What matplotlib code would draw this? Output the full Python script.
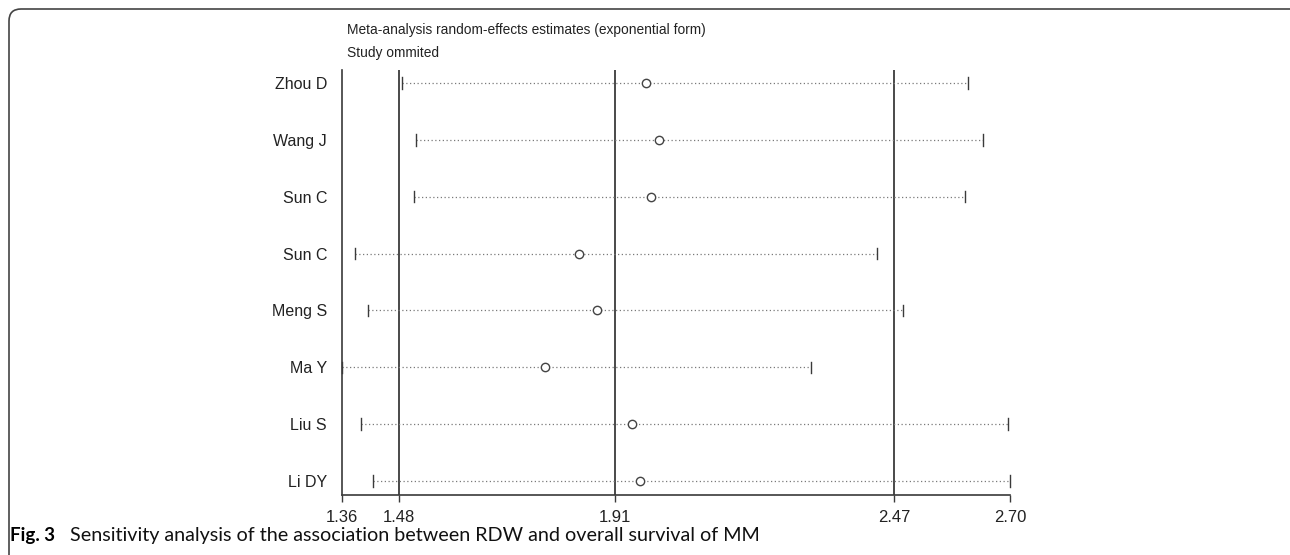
import matplotlib
matplotlib.use("Agg")
import matplotlib.pyplot as plt
from matplotlib.patches import FancyBboxPatch

# ---- data ----
studies = ["Zhou D", "Wang J", "Sun C", "Sun C", "Meng S", "Ma Y", "Liu S", "Li DY"]
estimate = [1.970, 1.995, 1.979, 1.836, 1.871, 1.767, 1.941, 1.957]
lower = [1.480, 1.507, 1.503, 1.386, 1.412, 1.360, 1.398, 1.422]
upper = [2.616, 2.646, 2.610, 2.433, 2.485, 2.301, 2.696, 2.700]
ref_lines = [1.474, 1.907, 2.468]          # overall lower CI, estimate, upper CI
tick_values = [1.360, 1.474, 1.907, 2.468, 2.700]
tick_labels = ["1.36", "1.48", "1.91", "2.47", "2.70"]
title_lines = ["Meta-analysis random-effects estimates (exponential form)", "Study ommited"]
caption_bold = "Fig. 3"
caption_text = "Sensitivity analysis of the association between RDW and overall survival of MM"

W, H = 1290, 555
fig = plt.figure(figsize=(W / 100, H / 100), dpi=100)
fig.patch.set_facecolor("white")

fam = ["Liberation Sans", "DejaVu Sans"]
cap_fam = ["Lato", "DejaVu Sans"]

left, right, top, bottom = 342.3, 1010, 70, 495
ax = fig.add_axes([left / W, 1 - bottom / H, (right - left) / W, (bottom - top) / H])

n = len(studies)
ys = list(range(n, 0, -1))
line_col = "#3a3a3a"

for v in ref_lines:
    ax.axvline(v, color=line_col, lw=1.3, zorder=1)

for y, lo, hi, est in zip(ys, lower, upper, estimate):
    ax.plot([lo, hi], [y, y], color="#7a7a7a", lw=0.9, ls=(0, (1, 2)), zorder=2)
    ax.plot([lo, lo], [y - 0.1, y + 0.1], color=line_col, lw=1.0, zorder=3, clip_on=False)
    ax.plot([hi, hi], [y - 0.1, y + 0.1], color=line_col, lw=1.0, zorder=3, clip_on=False)
    ax.plot([est], [y], marker="o", ms=6, mfc="white", mec="#444444", mew=1.0, zorder=4)

ax.set_xlim(1.36, 2.70)
ax.set_ylim(0.754, 8.229)
ax.set_yticks(ys)
ax.set_yticklabels(studies, family=fam, fontsize=11.5, color="#222222")
ax.tick_params(axis="y", length=0, pad=11)
ax.set_xticks(tick_values)
ax.set_xticklabels(tick_labels, family=fam, fontsize=12, color="#222222")
ax.tick_params(axis="x", length=5, width=1.0, color=line_col, pad=6)
for s in ["top", "right"]:
    ax.spines[s].set_visible(False)
for s in ["left", "bottom"]:
    ax.spines[s].set_color(line_col)
    ax.spines[s].set_linewidth(1.2)

fig.text(347 / W, 1 - 30 / H, title_lines[0], family=fam, fontsize=9.9,
         color="#222222", va="center", ha="left")
fig.text(347 / W, 1 - 53 / H, title_lines[1], family=fam, fontsize=9.9,
         color="#222222", va="center", ha="left")

fig.text(10 / W, 1 - 535 / H, caption_bold, family=cap_fam, fontsize=13.5,
         fontweight="bold", color="black", va="center", ha="left")
fig.text(70 / W, 1 - 535 / H, caption_text, family=cap_fam, fontsize=14.2,
         color="#111111", va="center", ha="left")

box = FancyBboxPatch((9 / W, -0.2), (1310 - 9) / W, (1 - 9 / H) + 0.2,
                     boxstyle="round,pad=0,rounding_size=0.0093",
                     transform=fig.transFigure, fill=False,
                     edgecolor="#444444", lw=1.2, mutation_aspect=W / H)
fig.patches.append(box)

fig.savefig("out.png", dpi=100)
